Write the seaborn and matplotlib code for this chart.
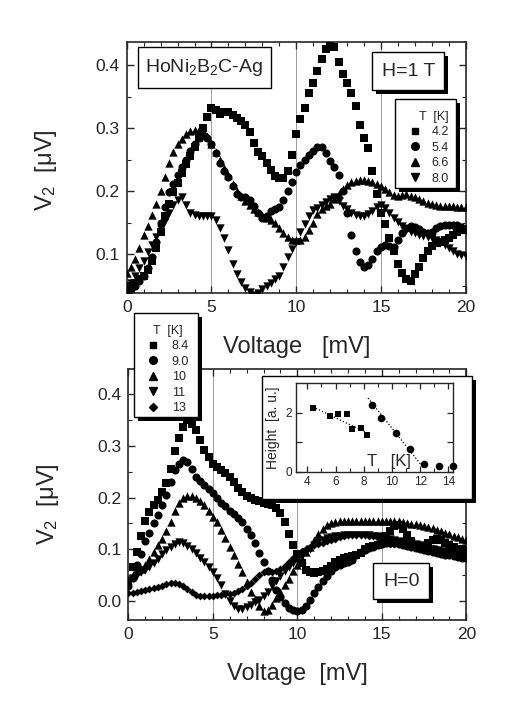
import numpy as np
import pandas as pd
import matplotlib
matplotlib.use("Agg")
import matplotlib.pyplot as plt
import seaborn as sns
from matplotlib.patches import Rectangle
from matplotlib.lines import Line2D
from matplotlib.ticker import MultipleLocator

# ---------------- data ----------------
voltage = np.arange(0, 20.001, 0.25)  # mV sampling grid (81 points)

top_temps = ["4.2", "5.4", "6.6", "8.0"]
top_v2_42 = [0.045, 0.050, 0.055, 0.060, 0.066, 0.075, 0.090, 0.110, 0.135, 0.160,
             0.180, 0.198, 0.213, 0.228, 0.243, 0.256, 0.270, 0.285, 0.300, 0.318,
             0.332, 0.328, 0.323, 0.325, 0.326, 0.321, 0.316, 0.311, 0.305, 0.294,
             0.277, 0.262, 0.255, 0.245, 0.234, 0.224, 0.221, 0.221, 0.232, 0.258,
             0.290, 0.314, 0.332, 0.355, 0.372, 0.390, 0.410, 0.425, 0.435, 0.428,
             0.405, 0.385, 0.372, 0.356, 0.335, 0.305, 0.285, 0.268, 0.232, 0.196,
             0.165, 0.148, 0.125, 0.105, 0.085, 0.070, 0.060, 0.058, 0.068, 0.080,
             0.094, 0.105, 0.113, 0.117, 0.120, 0.122, 0.125, 0.130, 0.135, 0.139,
             0.140]
top_v2_54 = [0.038, 0.045, 0.050, 0.058, 0.065, 0.078, 0.095, 0.120, 0.150, 0.175,
             0.198, 0.212, 0.225, 0.238, 0.250, 0.263, 0.275, 0.284, 0.289, 0.284,
             0.275, 0.260, 0.245, 0.232, 0.222, 0.208, 0.195, 0.190, 0.190, 0.186,
             0.176, 0.165, 0.158, 0.160, 0.168, 0.172, 0.175, 0.186, 0.200, 0.215,
             0.230, 0.242, 0.250, 0.258, 0.264, 0.270, 0.270, 0.260, 0.248, 0.238,
             0.225, 0.200, 0.165, 0.130, 0.105, 0.088, 0.080, 0.083, 0.093, 0.105,
             0.112, 0.115, 0.113, 0.112, 0.122, 0.134, 0.142, 0.145, 0.143, 0.140,
             0.136, 0.133, 0.136, 0.141, 0.144, 0.146, 0.146, 0.147, 0.146, 0.143,
             0.138]
top_v2_66 = [0.070, 0.080, 0.092, 0.110, 0.130, 0.145, 0.162, 0.180, 0.200, 0.222,
             0.245, 0.262, 0.275, 0.283, 0.291, 0.296, 0.297, 0.297, 0.293, 0.287,
             0.275, 0.262, 0.250, 0.237, 0.225, 0.212, 0.200, 0.192, 0.185, 0.178,
             0.172, 0.167, 0.162, 0.158, 0.155, 0.149, 0.142, 0.134, 0.127, 0.123,
             0.122, 0.123, 0.128, 0.138, 0.150, 0.163, 0.172, 0.177, 0.180, 0.187,
             0.195, 0.204, 0.210, 0.214, 0.216, 0.217, 0.217, 0.216, 0.214, 0.211,
             0.208, 0.203, 0.198, 0.194, 0.193, 0.194, 0.195, 0.193, 0.190, 0.187,
             0.184, 0.181, 0.179, 0.178, 0.177, 0.177, 0.176, 0.176, 0.175, 0.175,
             0.175]
top_v2_80 = [0.050, 0.055, 0.065, 0.078, 0.090, 0.103, 0.115, 0.128, 0.140, 0.153,
             0.165, 0.178, 0.186, 0.191, 0.178, 0.166, 0.162, 0.160, 0.160, 0.160,
             0.160, 0.154, 0.142, 0.125, 0.107, 0.085, 0.068, 0.056, 0.047, 0.040,
             0.036, 0.038, 0.045, 0.050, 0.055, 0.060, 0.066, 0.080, 0.095, 0.108,
             0.120, 0.135, 0.148, 0.160, 0.170, 0.174, 0.178, 0.182, 0.187, 0.190,
             0.184, 0.177, 0.171, 0.166, 0.162, 0.160, 0.161, 0.164, 0.169, 0.175,
             0.178, 0.174, 0.166, 0.158, 0.151, 0.144, 0.138, 0.135, 0.133, 0.131,
             0.129, 0.127, 0.125, 0.122, 0.118, 0.114, 0.110, 0.105, 0.101, 0.099,
             0.097]

bot_temps = ["8.4", "9.0", "10", "11", "13"]
bot_v2_84 = [0.030, 0.065, 0.095, 0.125, 0.155, 0.172, 0.185, 0.196, 0.210, 0.228,
             0.255, 0.290, 0.315, 0.337, 0.350, 0.342, 0.330, 0.312, 0.293, 0.278,
             0.266, 0.260, 0.254, 0.248, 0.240, 0.230, 0.219, 0.210, 0.204, 0.199,
             0.196, 0.193, 0.190, 0.188, 0.185, 0.180, 0.170, 0.152, 0.130, 0.108,
             0.090, 0.073, 0.060, 0.055, 0.054, 0.055, 0.057, 0.062, 0.068, 0.075,
             0.080, 0.083, 0.085, 0.086, 0.089, 0.093, 0.100, 0.105, 0.107, 0.108,
             0.115, 0.125, 0.135, 0.145, 0.147, 0.140, 0.128, 0.115, 0.107, 0.105,
             0.107, 0.112, 0.118, 0.120, 0.117, 0.112, 0.108, 0.104, 0.101, 0.100,
             0.099]
bot_v2_90 = [0.028, 0.045, 0.070, 0.090, 0.115, 0.132, 0.150, 0.166, 0.185, 0.205,
             0.230, 0.254, 0.266, 0.273, 0.268, 0.256, 0.240, 0.232, 0.224, 0.216,
             0.208, 0.200, 0.190, 0.183, 0.175, 0.168, 0.160, 0.152, 0.140, 0.128,
             0.112, 0.093, 0.075, 0.057, 0.040, 0.022, 0.008, -0.004, -0.013, -0.018,
             -0.020, -0.017, -0.010, 0.002, 0.015, 0.027, 0.038, 0.048, 0.058, 0.066,
             0.070, 0.073, 0.075, 0.080, 0.088, 0.094, 0.098, 0.102, 0.105, 0.108,
             0.110, 0.112, 0.113, 0.112, 0.110, 0.108, 0.107, 0.105, 0.102, 0.100,
             0.098, 0.096, 0.094, 0.092, 0.090, 0.089, 0.088, 0.086, 0.085, 0.084,
             0.083]
bot_v2_10 = [0.040, 0.050, 0.057, 0.062, 0.070, 0.082, 0.095, 0.108, 0.120, 0.135,
             0.152, 0.175, 0.190, 0.200, 0.203, 0.203, 0.200, 0.194, 0.185, 0.175,
             0.163, 0.152, 0.138, 0.121, 0.105, 0.089, 0.072, 0.055, 0.036, 0.018,
             0.004, -0.010, -0.020, -0.018, -0.008, 0.005, 0.018, 0.030, 0.043, 0.057,
             0.070, 0.082, 0.094, 0.105, 0.118, 0.130, 0.140, 0.147, 0.151, 0.153,
             0.154, 0.155, 0.155, 0.155, 0.155, 0.155, 0.155, 0.155, 0.155, 0.155,
             0.155, 0.155, 0.155, 0.155, 0.155, 0.153, 0.151, 0.149, 0.148, 0.146,
             0.145, 0.143, 0.141, 0.138, 0.135, 0.132, 0.129, 0.126, 0.123, 0.120,
             0.117]
bot_v2_11 = [0.040, 0.045, 0.050, 0.055, 0.060, 0.066, 0.073, 0.081, 0.090, 0.098,
             0.105, 0.111, 0.114, 0.112, 0.107, 0.100, 0.092, 0.084, 0.076, 0.066,
             0.056, 0.044, 0.030, 0.014, 0.000, -0.010, -0.016, -0.016, -0.012, -0.007,
             -0.002, 0.002, 0.010, 0.018, 0.028, 0.038, 0.048, 0.058, 0.065, 0.073,
             0.079, 0.087, 0.094, 0.101, 0.108, 0.114, 0.118, 0.121, 0.123, 0.125,
             0.126, 0.127, 0.128, 0.128, 0.128, 0.128, 0.128, 0.127, 0.126, 0.125,
             0.124, 0.122, 0.120, 0.118, 0.116, 0.114, 0.113, 0.112, 0.110, 0.108,
             0.106, 0.104, 0.101, 0.098, 0.096, 0.094, 0.092, 0.090, 0.089, 0.087,
             0.086]
bot_v2_13 = [0.015, 0.016, 0.017, 0.019, 0.021, 0.023, 0.025, 0.027, 0.029, 0.032,
             0.034, 0.035, 0.033, 0.029, 0.023, 0.017, 0.012, 0.010, 0.009, 0.009,
             0.010, 0.011, 0.012, 0.013, 0.014, 0.016, 0.019, 0.023, 0.028, 0.035,
             0.042, 0.050, 0.056, 0.057, 0.055, 0.057, 0.062, 0.068, 0.076, 0.084,
             0.090, 0.096, 0.100, 0.104, 0.108, 0.111, 0.113, 0.115, 0.117, 0.120,
             0.123, 0.125, 0.127, 0.128, 0.128, 0.128, 0.127, 0.126, 0.125, 0.121,
             0.116, 0.112, 0.111, 0.111, 0.112, 0.112, 0.111, 0.110, 0.109, 0.108,
             0.106, 0.104, 0.102, 0.101, 0.099, 0.097, 0.096, 0.094, 0.093, 0.092,
             0.091]

# inset: peak height vs temperature
inset_sq_T = [4.4, 5.6, 6.2, 6.8, 7.2, 7.8, 8.2]
inset_sq_H = [2.17, 1.89, 1.95, 1.96, 1.45, 1.49, 1.24]
inset_ci_T = [8.6, 9.2, 10.3, 11.3, 12.3, 13.3, 14.3]
inset_ci_H = [2.28, 1.81, 1.33, 0.76, 0.26, 0.19, 0.19]
fit_sq_T, fit_sq_H = [4.4, 8.3], [2.2, 1.3]
fit_ci_T, fit_ci_H = [8.3, 12.2], [2.5, 0.15]

# ---------------- style ----------------
sns.set_theme(style="ticks")
plt.rcParams["font.family"] = ["Liberation Sans", "DejaVu Sans"]
plt.rcParams["mathtext.fontset"] = "custom"
plt.rcParams["mathtext.rm"] = "Liberation Sans"
plt.rcParams["mathtext.it"] = "Liberation Sans:italic"

W, H = 517, 725
fig = plt.figure(figsize=(W / 100, H / 100), dpi=100)
fig.patch.set_facecolor("white")


def fx(px):
    return px / W


def fy(py):
    return 1 - py / H


def axes_px(x0, y0, x1, y1, **kw):
    return fig.add_axes([fx(x0), fy(y1), (x1 - x0) / W, (y1 - y0) / H], **kw)


def box_px(x0, y0, x1, y1, shadow=True, off=4, z=5):
    if shadow:
        fig.patches.append(Rectangle((fx(x0 + off), fy(y1 + off)), (x1 - x0) / W, (y1 - y0) / H,
                                     transform=fig.transFigure, facecolor="black",
                                     edgecolor="black", lw=0, zorder=z))
    fig.patches.append(Rectangle((fx(x0), fy(y1)), (x1 - x0) / W, (y1 - y0) / H,
                                 transform=fig.transFigure, facecolor="white",
                                 edgecolor="black", lw=1.0, zorder=z + 0.1))


markers_top = dict(zip(top_temps, ["s", "o", "^", "v"]))
markers_bot = dict(zip(bot_temps, ["s", "o", "^", "v", "D"]))
marker_area = {"s": 28, "o": 34, "^": 36, "v": 36, "D": 16}

df_top = pd.concat([pd.DataFrame({"V": voltage, "V2": v, "T": t})
                    for t, v in zip(top_temps, [top_v2_42, top_v2_54, top_v2_66, top_v2_80])])
df_bot = pd.concat([pd.DataFrame({"V": voltage, "V2": v, "T": t})
                    for t, v in zip(bot_temps, [bot_v2_84, bot_v2_90, bot_v2_10, bot_v2_11, bot_v2_13])])


def style_axes(ax):
    ax.set_xlim(0, 20)
    ax.xaxis.set_major_locator(MultipleLocator(5))
    ax.xaxis.set_minor_locator(MultipleLocator(1))
    ax.yaxis.set_major_locator(MultipleLocator(0.1))
    ax.yaxis.set_minor_locator(MultipleLocator(0.05))
    ax.tick_params(which="both", direction="in", top=True, right=True, labelsize=12.5, pad=5)
    ax.tick_params(which="major", length=5, width=1.0)
    ax.tick_params(which="minor", length=3, width=0.8)
    for s in ax.spines.values():
        s.set_linewidth(1.2)
    for xv in (5, 10, 15):
        ax.axvline(xv, color="0.55", lw=0.6, zorder=0)


# ---------------- top panel ----------------
ax1 = axes_px(126.7, 41.7, 465.7, 293.3)
for t in top_temps:
    m = markers_top[t]
    sub = df_top[df_top["T"] == t]
    sns.scatterplot(data=sub, x="V", y="V2", marker=m, color="black", s=marker_area[m],
                    linewidth=0, legend=False, ax=ax1, zorder=3)
ax1.set_ylim(0.038, 0.437)
style_axes(ax1)
ax1.set_yticks([0.1, 0.2, 0.3, 0.4])
ax1.set_yticklabels(["0.1", "0.2", "0.3", "0.4"])
ax1.set_xlabel("Voltage   [mV]", fontsize=17)
ax1.xaxis.set_label_coords(0.5, -0.17)
ax1.set_ylabel("V$_2$  [μV]", fontsize=17)
ax1.yaxis.set_label_coords(-0.2, 0.49)

# ---------------- bottom panel ----------------
ax2 = axes_px(128.3, 369, 466.3, 620)
for t in bot_temps:
    m = markers_bot[t]
    sub = df_bot[df_bot["T"] == t]
    sns.scatterplot(data=sub, x="V", y="V2", marker=m, color="black", s=marker_area[m],
                    linewidth=0, legend=False, ax=ax2, zorder=3)
ax2.set_ylim(-0.037, 0.449)
style_axes(ax2)
ax2.set_yticks([0.0, 0.1, 0.2, 0.3, 0.4])
ax2.set_yticklabels(["0.0", "0.1", "0.2", "0.3", "0.4"])
ax2.set_xlabel("Voltage  [mV]", fontsize=17)
ax2.xaxis.set_label_coords(0.5, -0.17)
ax2.set_ylabel("V$_2$  [μV]", fontsize=17)
ax2.yaxis.set_label_coords(-0.2, 0.46)

# ---------------- annotation boxes ----------------
box_px(137.7, 47.3, 270.7, 87.7, shadow=False)
fig.text(fx(204.2), fy(67.5), r"HoNi$_2$B$_2$C-Ag", ha="center", va="center", fontsize=14, zorder=6)

box_px(372.3, 52.3, 444.3, 90)
fig.text(fx(408.3), fy(71), "H=1 T", ha="center", va="center", fontsize=14, zorder=6)

box_px(373.3, 563.3, 429.3, 599.3)
fig.text(fx(401.3), fy(581.3), "H=0", ha="center", va="center", fontsize=14, zorder=6)

# legends
box_px(395, 99, 456, 188)
h_top = [Line2D([], [], ls="none", marker=markers_top[t], color="black",
                markersize=5 if markers_top[t] == "s" else 5.5)
         for t in top_temps]
leg1 = fig.legend(h_top, top_temps, loc="upper left", bbox_to_anchor=(fx(400), fy(102)),
                  frameon=False, fontsize=9, title="T  [K]", title_fontsize=9,
                  handlelength=1.0, handletextpad=0.8, labelspacing=0.28, borderpad=0.2,
                  alignment="right")
leg1.set_zorder(7)

box_px(134, 312.7, 198.3, 417.3)
h_bot = [Line2D([], [], ls="none", marker=markers_bot[t], color="black",
                markersize=4 if markers_bot[t] == "D" else (5 if markers_bot[t] == "s" else 5.5))
         for t in bot_temps]
leg2 = fig.legend(h_bot, bot_temps, loc="upper left", bbox_to_anchor=(fx(138), fy(316)),
                  frameon=False, fontsize=9, title="T  [K]", title_fontsize=9,
                  handlelength=1.0, handletextpad=1.0, labelspacing=0.28, borderpad=0.2,
                  alignment="center")
leg2.set_zorder(7)

# ---------------- inset ----------------
box_px(261.7, 376, 472, 499.3, z=5)
ax3 = axes_px(296, 383.3, 452.7, 471.7)
ax3.set_zorder(8)
ax3.plot(fit_sq_T, fit_sq_H, ls=":", color="black", lw=0.9)
ax3.plot(fit_ci_T, fit_ci_H, ls=":", color="black", lw=0.9)
sns.scatterplot(x=inset_sq_T, y=inset_sq_H, marker="s", color="black", s=24, linewidth=0,
                ax=ax3, legend=False, zorder=3, clip_on=False)
sns.scatterplot(x=inset_ci_T, y=inset_ci_H, marker="o", color="black", s=30, linewidth=0,
                ax=ax3, legend=False, zorder=3, clip_on=False)
ax3.set_xlim(3.2, 14.3)
ax3.set_ylim(0, 3.0)
ax3.set_xticks([4, 6, 8, 10, 12, 14])
ax3.set_yticks([0, 1, 2])
ax3.set_yticklabels(["0", "", "2"])
ax3.xaxis.set_minor_locator(MultipleLocator(1))
ax3.tick_params(which="both", direction="in", top=True, right=True, labelsize=8.5, pad=3)
ax3.tick_params(which="major", length=4, width=0.9)
ax3.tick_params(which="minor", length=3, width=0.8)
for s in ax3.spines.values():
    s.set_linewidth(1.0)
ax3.set_ylabel("Height  [a. u.]", fontsize=10, labelpad=4)
ax3.text(9.8, 0.33, "T   [K]", ha="center", va="center", fontsize=12)

fig.savefig("out.png", dpi=100, facecolor="white")
